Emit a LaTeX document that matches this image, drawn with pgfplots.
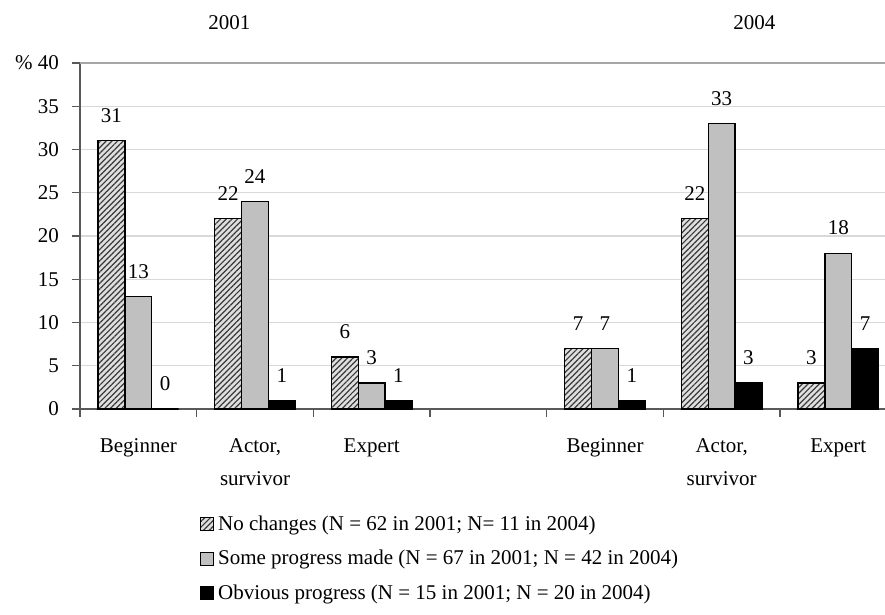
\documentclass[border=0pt]{standalone}
\usepackage{pgfplots}
\pgfplotsset{compat=1.18}
\usepackage{fontspec}
\setmainfont{Liberation Serif}
\usetikzlibrary{patterns.meta}
\definecolor{barGray}{HTML}{C0C0C0}
\begin{document}
\begin{tikzpicture}
\useasboundingbox (0,0) rectangle (442.5pt,307.5pt);
\begin{axis}[
  at={(40pt,103pt)}, anchor=south west,
  scale only axis, width=402.5pt, height=173pt,
  xmin=-0.5, xmax=6.4, ymin=0, ymax=40,
  clip=false,
  ybar, bar width=0.23,
  axis lines*=left,
  axis line style={-, draw=gray!70!black, line width=0.8pt},
  ytick={0,5,...,35},
  extra y ticks={40}, extra y tick labels={\% 40},
  extra y tick style={grid style={draw=gray!70, line width=1.2pt}},
  ymajorgrids, grid style={draw=gray!30, line width=0.7pt},
  xtick={-0.5,0.5,...,5.5},
  xticklabels={},
  extra x ticks={0,1,2,4,5,6},
  extra x tick labels={Beginner,{Actor,\\survivor},Expert,Beginner,{Actor,\\survivor},Expert},
  extra x tick style={major tick length=0pt, tick style={draw=none}, xmajorgrids=false},
  tick align=outside, major tick length=4pt,
  tick style={draw=gray!70!black, line width=0.6pt},
  /pgf/number format/assume math mode=true,
  tick label style={font=\fontsize{10.5}{16.5}\selectfont},
  xticklabel style={align=center, yshift=-11.5pt},
  yticklabel style={xshift=-3pt},
  nodes near coords,
  every node near coord/.append style={font=\fontsize{10.5}{12}\selectfont, yshift=5.5pt},
  legend image code/.code={\draw[#1, line width=0.5pt] (0pt,-3.2pt) rectangle (6.4pt,3.2pt);},
  legend style={at={(0.149,-0.295)}, anchor=north west, draw=none, fill=none,
    font=\fontsize{10.5}{12}\selectfont, row sep=4.5pt, inner sep=0pt,
    nodes={inner xsep=2pt}},
  legend cell align=left,
]
\addplot[draw=black, line width=0.6pt, bar shift=-0.23,
  preaction={fill=gray!25},
  pattern={Lines[angle=45, distance=2pt, line width=0.6pt]}, pattern color=gray!45!black]
  coordinates {(0,31) (1,22) (2,6) (4,7) (5,22) (6,3)};
\addplot[draw=black, line width=0.6pt, fill=barGray, bar shift=0]
  coordinates {(0,13) (1,24) (2,3) (4,7) (5,33) (6,18)};
\addplot[draw=black, line width=0.6pt, fill=black, bar shift=0.23]
  coordinates {(0,0) (1,1) (2,1) (4,1) (5,3) (6,7)};
\legend{No changes (N = 62 in 2001; N= 11 in 2004),
        Some progress made (N = 67 in 2001; N = 42 in 2004),
        Obvious progress (N = 15 in 2001; N = 20 in 2004)}
\node[font=\fontsize{10.5}{12}\selectfont] at (axis cs:0.78,44.7) {2001};
\node[font=\fontsize{10.5}{12}\selectfont] at (axis cs:5.28,44.7) {2004};
\end{axis}
\end{tikzpicture}
\end{document}
